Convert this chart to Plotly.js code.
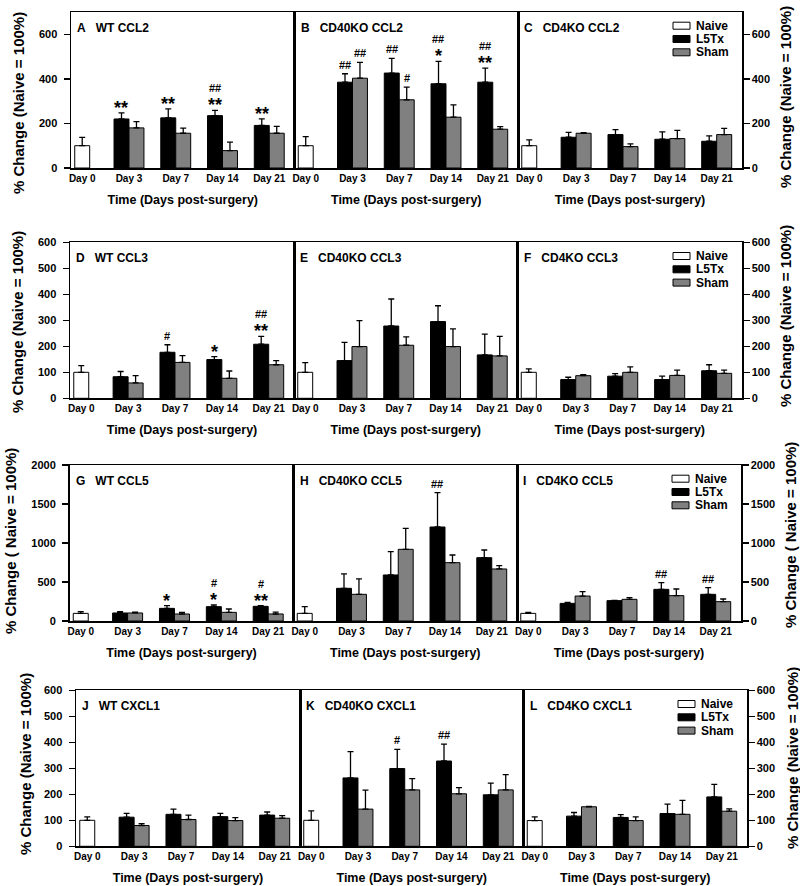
<!DOCTYPE html>
<html><head><meta charset="utf-8">
<script src="https://cdn.plot.ly/plotly-3.0.1.min.js"></script>
<style>html,body{margin:0;padding:0;background:#fff}#chart{width:800px;height:886px}</style>
</head><body><div id="chart"></div>
<script>
// ---------- DATA ----------
const days = ['Day 0', 'Day 3', 'Day 7', 'Day 14', 'Day 21'];
const treatedDays = ['Day 3', 'Day 7', 'Day 14', 'Day 21'];
const seriesNames = ['Naive', 'L5Tx', 'Sham'];
const panelTitles = ['A   WT CCL2', 'B   CD40KO CCL2', 'C   CD4KO CCL2',
  'D   WT CCL3', 'E   CD40KO CCL3', 'F   CD4KO CCL3',
  'G   WT CCL5', 'H   CD40KO CCL5', 'I   CD4KO CCL5',
  'J   WT CXCL1', 'K   CD40KO CXCL1', 'L   CD4KO CXCL1'];
const rowYMax = [700, 600, 2000, 600];
const rowYTick = [200, 100, 500, 100];
const rowYTitles = ['% Change (Naive = 100%)', '% Change (Naive = 100%)',
  '% Change ( Naive = 100%)', '% Change (Naive = 100%)'];
const xTitle = 'Time (Days post-surgery)';

// Naive (Day 0) per panel A..L
const naiveMean = [100, 100, 100, 100, 100, 100, 98, 98, 98, 100, 100, 99];
const naiveErr = [37, 41, 26, 26, 37, 13, 22, 86, 13, 13, 36, 14];

// L5Tx per panel, Day 3, 7, 14, 21
const l5txA = [220, 225, 235, 191], l5txErrA = [27, 40, 24, 29];
const l5txB = [385, 426, 378, 385], l5txErrB = [38, 66, 100, 63];
const l5txC = [138, 150, 129, 120], l5txErrC = [22, 22, 33, 24];
const l5txD = [83, 177, 149, 208], l5txErrD = [20, 29, 11, 30];
const l5txE = [145, 278, 295, 167], l5txErrE = [70, 104, 61, 80];
const l5txF = [72, 85, 72, 106], l5txErrF = [9, 10, 13, 23];
const l5txG = [103, 162, 184, 188], l5txErrG = [17, 35, 21, 9];
const l5txH = [419, 590, 1205, 812], l5txErrH = [184, 299, 440, 98];
const l5txI = [226, 261, 406, 342], l5txErrI = [13, 4, 85, 85];
const l5txJ = [112, 123, 114, 120], l5txErrJ = [15, 20, 13, 12];
const l5txK = [263, 299, 328, 198], l5txErrK = [101, 74, 65, 45];
const l5txL = [116, 111, 126, 190], l5txErrL = [14, 11, 36, 48];

// Sham per panel, Day 3, 7, 14, 21
const shamA = [180, 156, 78, 156], shamErrA = [28, 23, 38, 31];
const shamB = [403, 306, 228, 174], shamErrB = [71, 57, 55, 12];
const shamC = [156, 96, 132, 150], shamErrC = [3, 12, 37, 28];
const shamD = [59, 138, 77, 129], shamErrD = [28, 26, 28, 16];
const shamE = [199, 204, 199, 163], shamErrE = [100, 32, 68, 75];
const shamF = [87, 100, 88, 96], shamErrF = [4, 21, 20, 12];
const shamG = [103, 90, 111, 90], shamErrG = [12, 21, 43, 25];
const shamH = [342, 919, 748, 667], shamErrH = [197, 269, 98, 42];
const shamI = [320, 278, 325, 248], shamErrI = [56, 21, 85, 34];
const shamJ = [80, 103, 99, 108], shamErrJ = [7, 17, 11, 10];
const shamK = [143, 217, 202, 217], shamErrK = [73, 43, 24, 59];
const shamL = [152, 99, 123, 135], shamErrL = [1, 14, 54, 9];

// significance marks: panel index, day, series, stack (bottom -> top)
const marks = [
  [0, 'Day 3', 'L5Tx', ['**']], [0, 'Day 7', 'L5Tx', ['**']],
  [0, 'Day 14', 'L5Tx', ['**', '##']], [0, 'Day 21', 'L5Tx', ['**']],
  [1, 'Day 3', 'L5Tx', ['##']], [1, 'Day 3', 'Sham', ['##']],
  [1, 'Day 7', 'L5Tx', ['##']], [1, 'Day 7', 'Sham', ['#']],
  [1, 'Day 14', 'L5Tx', ['*', '##']], [1, 'Day 21', 'L5Tx', ['**', '##']],
  [3, 'Day 7', 'L5Tx', ['#']], [3, 'Day 14', 'L5Tx', ['*']],
  [3, 'Day 21', 'L5Tx', ['**', '##']],
  [6, 'Day 7', 'L5Tx', ['*']], [6, 'Day 14', 'L5Tx', ['*', '#']],
  [6, 'Day 21', 'L5Tx', ['**', '#']],
  [7, 'Day 14', 'L5Tx', ['##']],
  [8, 'Day 14', 'L5Tx', ['##']], [8, 'Day 21', 'L5Tx', ['##']],
  [10, 'Day 7', 'L5Tx', ['#']], [10, 'Day 14', 'L5Tx', ['##']]
];

const l5txMean = [l5txA, l5txB, l5txC, l5txD, l5txE, l5txF, l5txG, l5txH, l5txI, l5txJ, l5txK, l5txL];
const l5txErr = [l5txErrA, l5txErrB, l5txErrC, l5txErrD, l5txErrE, l5txErrF, l5txErrG, l5txErrH, l5txErrI, l5txErrJ, l5txErrK, l5txErrL];
const shamMean = [shamA, shamB, shamC, shamD, shamE, shamF, shamG, shamH, shamI, shamJ, shamK, shamL];
const shamErr = [shamErrA, shamErrB, shamErrC, shamErrD, shamErrE, shamErrF, shamErrG, shamErrH, shamErrI, shamErrJ, shamErrK, shamErrL];

// ---------- LAYOUT GEOMETRY ----------
const W = 800, H = 886;
const FONT = 'Arial, "Liberation Sans", Helvetica, sans-serif';
const rowX = [[71, 294.5, 518, 742], [70, 294, 517.5, 742], [69.5, 293.5, 517, 741], [76, 300, 523.5, 747]];
const rowTop = [12, 242.3, 465, 690.3];
const rowH = 156;
const colors = {Naive: '#ffffff', L5Tx: '#000000', Sham: '#808080'};
const BW = 0.32;          // bar width in category units
const BWPX = 15;          // approx bar width px
const xRange = [-0.24, 4.54];
const leftTitleX = [18, 18, 10, 25], rightTitleX = [785, 785, 790, 792];
const titleYc = [103, 322, 541, 764];

const px = x => x / W, py = y => 1 - y / H;
const bold = (size) => ({family: FONT, size: size, color: '#000', weight: 700});

const traces = [];
const layout = {
  width: W, height: H, margin: {l: 0, r: 0, t: 0, b: 0},
  paper_bgcolor: '#fff', plot_bgcolor: '#fff',
  barmode: 'overlay', font: bold(12), annotations: [], shapes: [], showlegend: false
};

for (let n = 0; n < 12; n++) {
  const r = Math.floor(n / 3), c = n % 3, k = n + 1;
  const xa = 'x' + k, ya = 'y' + k;
  const errStyle = {type: 'data', symmetric: false, color: '#000', thickness: 1.3, width: 3};
  traces.push({
    type: 'bar', name: seriesNames[0], x: [days[0]], y: [naiveMean[n]],
    xaxis: xa, yaxis: ya, width: BW, offset: -BW / 2,
    marker: {color: colors.Naive, line: {color: '#000', width: 1}},
    error_y: Object.assign({array: [naiveErr[n]], arrayminus: [0]}, errStyle),
    hoverinfo: 'y'
  });
  traces.push({
    type: 'bar', name: seriesNames[1], x: treatedDays, y: l5txMean[n],
    xaxis: xa, yaxis: ya, width: BW, offset: -BW,
    marker: {color: colors.L5Tx, line: {color: '#000', width: 1}},
    error_y: Object.assign({array: l5txErr[n], arrayminus: l5txErr[n].map(() => 0)}, errStyle),
    hoverinfo: 'y'
  });
  traces.push({
    type: 'bar', name: seriesNames[2], x: treatedDays, y: shamMean[n],
    xaxis: xa, yaxis: ya, width: BW, offset: 0,
    marker: {color: colors.Sham, line: {color: '#000', width: 1}},
    error_y: Object.assign({array: shamErr[n], arrayminus: shamErr[n].map(() => 0)}, errStyle),
    hoverinfo: 'y'
  });

  const x0 = rowX[r][c], x1 = rowX[r][c + 1];
  const yTop = rowTop[r], yBot = rowTop[r] + rowH;
  layout['xaxis' + k] = {
    domain: [px(x0), px(x1)], anchor: ya, type: 'category',
    categoryorder: 'array', categoryarray: days, range: xRange,
    showline: true, mirror: true, linecolor: '#000', linewidth: 1.5,
    ticks: '', showgrid: false, zeroline: false, fixedrange: true,
    tickfont: bold(10),
    title: {text: xTitle, font: bold(12.5), standoff: 12}
  };
  const yax = {
    domain: [py(yBot), py(yTop)], anchor: xa, range: [0, rowYMax[r]],
    dtick: rowYTick[r], tick0: 0,
    showline: true, mirror: true, linecolor: '#000', linewidth: 1.5,
    showgrid: false, zeroline: false, fixedrange: true,
    tickfont: bold(11), ticklen: 6, tickwidth: 1.5, tickcolor: '#000'
  };
  if (c === 0) { yax.ticks = 'outside'; yax.side = 'left'; yax.showticklabels = true; yax.ticklabelstandoff = 4; }
  else if (c === 2) { yax.ticks = 'outside'; yax.side = 'right'; yax.showticklabels = true; yax.ticklabelstandoff = 0; }
  else { yax.ticks = ''; yax.showticklabels = false; }
  layout['yaxis' + k] = yax;

  // panel label
  layout.annotations.push({
    text: panelTitles[n].replace(/ {3}/, '\u00a0\u00a0\u00a0'),
    xref: xa + ' domain', yref: ya + ' domain', x: 0, y: 1,
    xanchor: 'left', yanchor: 'middle', xshift: 4, yshift: -16,
    showarrow: false, font: bold(12)
  });
}

// legend drawn inside the right panel of each row (swatch + label)
for (let r = 0; r < 4; r++) {
  const sx = rowX[r][3] - 69;
  seriesNames.forEach((s, i) => {
    const cy = rowTop[r] + 13.7 + i * 13.3;
    layout.shapes.push({
      type: 'rect', xref: 'paper', yref: 'paper',
      x0: px(sx), x1: px(sx + 17), y0: py(cy - 3.5), y1: py(cy + 3.5),
      fillcolor: colors[s], line: {color: '#000', width: 1}
    });
    layout.annotations.push({
      text: s, xref: 'paper', yref: 'paper', x: px(sx + 21), y: py(cy),
      xanchor: 'left', yanchor: 'middle', showarrow: false, font: bold(12)
    });
  });
}

// y-axis titles
for (let r = 0; r < 4; r++) {
  layout.annotations.push({
    text: rowYTitles[r], xref: 'paper', yref: 'paper', x: px(leftTitleX[r]), y: py(titleYc[r]),
    textangle: -90, showarrow: false, font: bold(15), xanchor: 'center', yanchor: 'middle'
  });
  layout.annotations.push({
    text: rowYTitles[r], xref: 'paper', yref: 'paper', x: px(rightTitleX[r]), y: py(titleYc[r] - 6),
    textangle: -90, showarrow: false, font: bold(15), xanchor: 'center', yanchor: 'middle'
  });
}

// significance marks
marks.forEach(([n, day, series, stack]) => {
  const i = treatedDays.indexOf(day);
  const top = series === 'L5Tx' ? l5txMean[n][i] + l5txErr[n][i] : shamMean[n][i] + shamErr[n][i];
  stack.forEach((txt, level) => {
    const star = txt.indexOf('*') >= 0;
    layout.annotations.push({
      text: txt, xref: 'x' + (n + 1), yref: 'y' + (n + 1), x: day, y: top,
      xshift: series === 'L5Tx' ? -BWPX / 2 : BWPX / 2,
      yshift: (level === 0 ? 9 : 22) - (star ? 4 : 0),
      xanchor: 'center', yanchor: 'middle', showarrow: false,
      font: star ? bold(18) : bold(11)
    });
  });
});

Plotly.newPlot('chart', traces, layout, {displayModeBar: false, staticPlot: true});
</script>
</body></html>
